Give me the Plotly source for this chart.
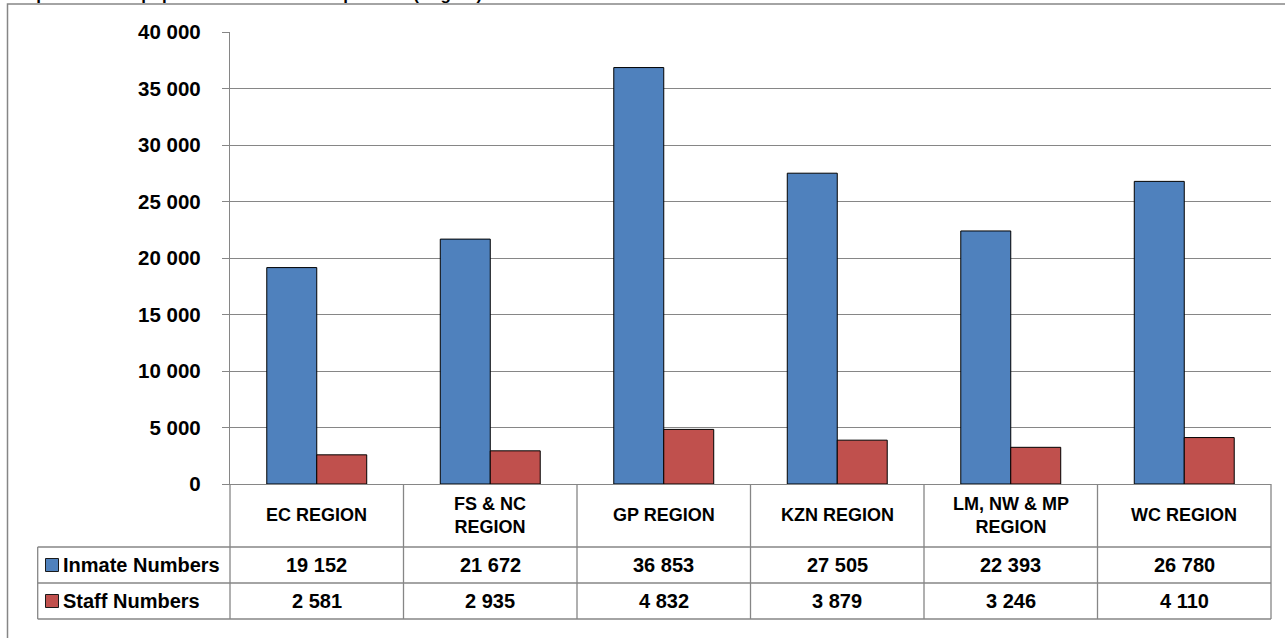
import plotly.graph_objects as go

# Regional totals
regions = ["EC REGION", "FS & NC<br>REGION", "GP REGION", "KZN REGION",
           "LM, NW & MP<br>REGION", "WC REGION"]
inmate_numbers = [19152, 21672, 36853, 27505, 22393, 26780]
staff_numbers = [2581, 2935, 4832, 3879, 3246, 4110]
series_names = ["Inmate Numbers", "Staff Numbers"]
series_colors = ["#4F81BD", "#C0504D"]
tick_vals = [0, 5000, 10000, 15000, 20000, 25000, 30000, 35000, 40000]
tick_text = ["0", "5 000", "10 000", "15 000", "20 000", "25 000",
             "30 000", "35 000", "40 000"]
title_text = "Graph 1: Inmate population and staff complement (Region)"

W, H = 1285, 638
L, R, T, B = 230, 14, 32, 154
plot_w = W - L - R
plot_h = H - T - B
GRID = "#868686"
FAMILY = "Liberation Sans, Arial, sans-serif"
HEAD_FONT = dict(family=FAMILY, size=18, color="#000000")
CELL_FONT = dict(family=FAMILY, size=20, color="#000000")


def px_x(px):
    return (px - L) / plot_w


def px_y(py):
    return (H - B - py) / plot_h


def fmt(v):
    return f"{v:,}".replace(",", " ")


fig = go.Figure()
for name, vals, col in zip(series_names, [inmate_numbers, staff_numbers], series_colors):
    fig.add_trace(go.Bar(
        x=list(range(len(regions))), y=vals, name=name,
        marker=dict(color=col, line=dict(color="#000000", width=1)),
        hoverinfo="y+name",
    ))

shapes = []
annotations = []
n = len(regions)

# data table rows (paper y of header bottom and row bottoms)
header_bottom = px_y(547)
row_bottoms = [px_y(583), px_y(619)]
row_centers = [px_y(565), px_y(601)]
key_left = px_x(37.7)
line_style = dict(color=GRID, width=1.3)

# vertical column separators
for i in range(n + 1):
    shapes.append(dict(type="line", xref="paper", yref="paper",
                       x0=i / n, x1=i / n, y0=0, y1=row_bottoms[-1], line=line_style))
# horizontal separators
for yy in [header_bottom] + row_bottoms:
    shapes.append(dict(type="line", xref="paper", yref="paper",
                       x0=key_left, x1=1, y0=yy, y1=yy, line=line_style))
shapes.append(dict(type="line", xref="paper", yref="paper",
                   x0=key_left, x1=key_left, y0=header_bottom, y1=row_bottoms[-1],
                   line=line_style))

# header labels
for i, reg in enumerate(regions):
    annotations.append(dict(xref="paper", yref="paper", x=(i + 0.5) / n, y=px_y(515),
                            text=f"<b>{reg}</b>", showarrow=False, font=HEAD_FONT,
                            xanchor="center", yanchor="middle", align="center"))

# table rows: legend key, series name and values
for r, (name, vals, col) in enumerate(zip(series_names, [inmate_numbers, staff_numbers], series_colors)):
    yc = row_centers[r]
    shapes.append(dict(type="rect", xref="paper", yref="paper",
                       x0=px_x(45.5), x1=px_x(58.5), y0=yc - 6.5 / plot_h, y1=yc + 6.5 / plot_h,
                       fillcolor=col, line=dict(color="#1a1a1a", width=1)))
    annotations.append(dict(xref="paper", yref="paper", x=px_x(61), y=yc,
                            text=f"<b>{name}</b>", showarrow=False, font=CELL_FONT,
                            xanchor="left", yanchor="middle"))
    for i, v in enumerate(vals):
        annotations.append(dict(xref="paper", yref="paper", x=(i + 0.5) / n, y=yc,
                                text=f"<b>{fmt(v)}</b>", showarrow=False, font=CELL_FONT,
                                xanchor="center", yanchor="middle"))

# outer chart frame
shapes.append(dict(type="rect", xref="paper", yref="paper",
                   x0=px_x(7.5), x1=px_x(1300), y0=px_y(4), y1=px_y(660),
                   line=dict(color=GRID, width=1.5), fillcolor="rgba(0,0,0,0)"))

# chart title, sitting above the frame
annotations.append(dict(xref="paper", yref="paper", x=px_x(484), y=px_y(6),
                        text=f"<b>{title_text}</b>", showarrow=False,
                        font=dict(family=FAMILY, size=17, color="#000000"),
                        xanchor="right", yanchor="bottom"))

fig.update_layout(
    width=W, height=H,
    margin=dict(l=L, r=R, t=T, b=B, pad=0),
    paper_bgcolor="#ffffff", plot_bgcolor="#ffffff",
    barmode="group", bargap=0.424, bargroupgap=0,
    showlegend=False,
    font=HEAD_FONT,
    shapes=shapes, annotations=annotations,
    xaxis=dict(range=[-0.5, n - 0.5], showticklabels=False, showgrid=False,
               zeroline=False, showline=True, linecolor=GRID, linewidth=1.3,
               ticks="", fixedrange=True),
    yaxis=dict(range=[0, 40000], tickvals=tick_vals, ticktext=tick_text,
               tickfont=dict(family=FAMILY, size=20.5, color="#000000", weight="bold"),
               showgrid=True, gridcolor=GRID, gridwidth=1.3,
               zeroline=False, showline=True, linecolor=GRID, linewidth=1.3,
               ticks="outside", ticklen=7, tickcolor=GRID, tickwidth=1.3,
               ticklabelstandoff=17, fixedrange=True),
)

fig.write_html("out.html")
